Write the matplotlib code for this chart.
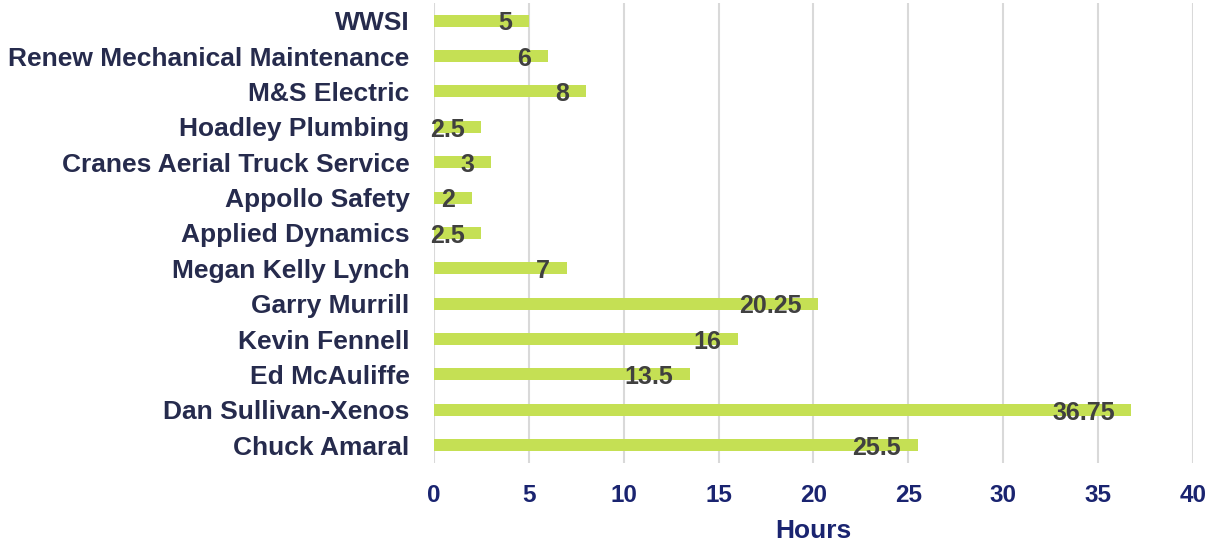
import matplotlib.pyplot as plt

names = [
    "WWSI",
    "Renew Mechanical Maintenance",
    "M&S Electric",
    "Hoadley Plumbing",
    "Cranes Aerial Truck Service",
    "Appollo Safety",
    "Applied Dynamics",
    "Megan Kelly Lynch",
    "Garry Murrill",
    "Kevin Fennell",
    "Ed McAuliffe",
    "Dan Sullivan-Xenos",
    "Chuck Amaral",
]
hours = [5, 6, 8, 2.5, 3, 2, 2.5, 7, 20.25, 16, 13.5, 36.75, 25.5]
value_labels = ["5", "6", "8", "2.5", "3", "2", "2.5", "7", "20.25", "16", "13.5", "36.75", "25.5"]

plt.rcParams["font.family"] = ["Liberation Sans", "DejaVu Sans"]

fig = plt.figure(figsize=(12.15, 5.42), dpi=100)
ax = fig.add_axes([0.357, 0.146, 0.625, 0.8485])

ypos = list(range(len(names)))[::-1]

bars = ax.barh(ypos, hours, height=0.34, color="#C5E054", zorder=3)

for bar, lab in zip(bars, value_labels):
    ax.annotate(
        lab,
        (bar.get_width(), bar.get_y() + bar.get_height() / 2),
        xytext=(-12, -2),
        textcoords="offset points",
        ha="right",
        va="center",
        fontsize=18,
        fontweight="bold",
        color="#404040",
        zorder=4,
    )

ax.set_xlim(0, 40)
ax.set_ylim(-0.5, len(names) - 0.5)
ax.set_xticks(range(0, 41, 5))
ax.set_yticks(ypos)
ax.set_yticklabels(names)

ax.grid(axis="x", color="#D9D9D9", linewidth=1.5, zorder=0)
for s in ax.spines.values():
    s.set_visible(False)

ax.tick_params(axis="both", length=0)
ax.tick_params(axis="y", pad=17.5, labelsize=19, labelcolor="#262B4D")
ax.tick_params(axis="x", pad=15.5, labelsize=17.5, labelcolor="#1A2470")
for t in ax.get_yticklabels() + ax.get_xticklabels():
    t.set_fontweight("bold")

ax.set_xlabel("Hours", fontsize=19, fontweight="bold", color="#1A2470", labelpad=8)

fig.savefig("out.png", dpi=100)
